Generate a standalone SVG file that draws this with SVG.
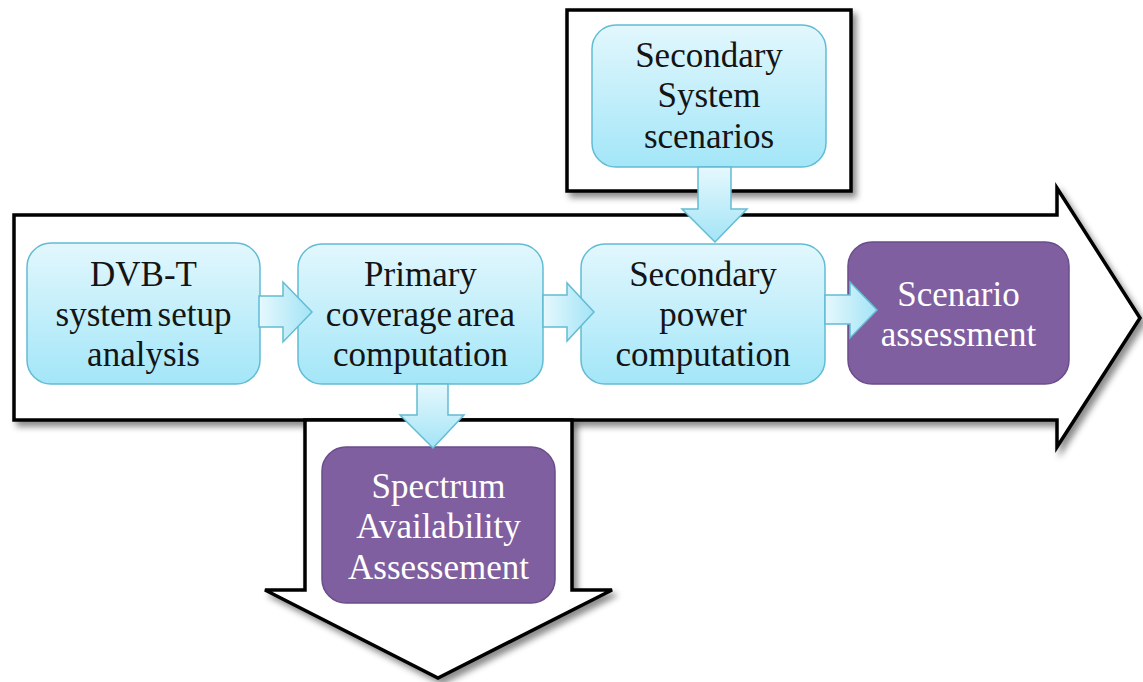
<svg xmlns="http://www.w3.org/2000/svg" width="1143" height="682" viewBox="0 0 1143 682">
  <defs>
    <filter id="shadow" x="-10%" y="-10%" width="125%" height="130%">
      <feDropShadow dx="4" dy="5" stdDeviation="3" flood-color="#000" flood-opacity="0.45"/>
    </filter>
    <linearGradient id="boxFill" x1="0" y1="0" x2="0" y2="1">
      <stop offset="0" stop-color="#e2f7fd"/>
      <stop offset="1" stop-color="#a3e6f8"/>
    </linearGradient>
    <linearGradient id="arrowH" x1="0" y1="0" x2="1" y2="0">
      <stop offset="0" stop-color="#e6f8fd"/>
      <stop offset="1" stop-color="#a3e4f6"/>
    </linearGradient>
    <linearGradient id="arrowV" x1="0" y1="0" x2="0" y2="1">
      <stop offset="0" stop-color="#e6f8fd"/>
      <stop offset="1" stop-color="#a3e4f6"/>
    </linearGradient>
    <style>
      .frame { fill: #fff; stroke: #000; stroke-width: 3.5; stroke-linejoin: miter; filter: url(#shadow); }
      .blue { fill: url(#boxFill); stroke: #62bcd4; stroke-width: 1.5; }
      .purple { fill: #7f5f9f; stroke: #6a4d89; stroke-width: 1.5; }
      .harrow { fill: url(#arrowH); stroke: #62bcd4; stroke-width: 1.5; stroke-linejoin: miter; }
      .varrow { fill: url(#arrowV); stroke: #62bcd4; stroke-width: 1.5; stroke-linejoin: miter; }
      .label { font-size: 35px; text-anchor: middle; word-spacing: -4px; }
      .dark { fill: #141414; }
      .light { fill: #ffffff; }
    </style>
  </defs>

  <!-- outline block arrows -->
  <g id="frames">
    <path id="main-arrow" class="frame" d="M14,215 L1057,215 L1057,188 L1140,318 L1057,447 L1057,420 L14,420 Z"/>
    <path id="down-arrow" class="frame" d="M305,420 L572,420 L572,590 L612,590 L438,678 L265,590 L305,590 Z"/>
    <rect id="top-frame" class="frame" x="567" y="10" width="284" height="181"/>
  </g>

  <g font-family="Liberation Serif, DejaVu Serif, serif">
    <!-- process boxes -->
    <g id="node-dvbt">
      <rect class="blue" x="27" y="243" width="233" height="141" rx="24"/>
      <text class="label dark" x="143.5" y="286">DVB-T</text>
      <text class="label dark" x="143.5" y="326">system setup</text>
      <text class="label dark" x="143.5" y="366">analysis</text>
    </g>

    <g id="node-primary">
      <rect class="blue" x="298" y="244" width="245" height="140" rx="24"/>
      <text class="label dark" x="420.5" y="286">Primary</text>
      <text class="label dark" x="420.5" y="326">coverage area</text>
      <text class="label dark" x="420.5" y="366">computation</text>
    </g>

    <g id="node-secondary-power">
      <rect class="blue" x="581" y="244" width="244" height="140" rx="24"/>
      <text class="label dark" x="703" y="286">Secondary</text>
      <text class="label dark" x="703" y="326">power</text>
      <text class="label dark" x="703" y="366">computation</text>
    </g>

    <g id="node-scenario">
      <rect class="purple" x="848" y="242" width="221" height="142" rx="24"/>
      <text class="label light" x="958.5" y="306">Scenario</text>
      <text class="label light" x="958.5" y="346">assessment</text>
    </g>

    <g id="node-secondary-system">
      <rect class="blue" x="592" y="25" width="234" height="142" rx="24"/>
      <text class="label dark" x="709" y="67">Secondary</text>
      <text class="label dark" x="709" y="107">System</text>
      <text class="label dark" x="709" y="148">scenarios</text>
    </g>

    <g id="node-spectrum">
      <rect class="purple" x="322" y="447" width="233" height="156" rx="24"/>
      <text class="label light" x="438.5" y="498">Spectrum</text>
      <text class="label light" x="438.5" y="538">Availability</text>
      <text class="label light" x="438.5" y="579">Assessement</text>
    </g>
  </g>

  <!-- connectors -->
  <g id="connectors">
    <path class="harrow" d="M259,296 L283,296 L283,282 L312,312 L283,342 L283,327 L259,327 Z"/>
    <path class="harrow" d="M543,295 L567,295 L567,283 L594,312 L567,341 L567,327 L543,327 Z"/>
    <path class="harrow" d="M825,295 L850,295 L850,282 L877,310 L850,338 L850,324 L825,324 Z"/>
    <path class="varrow" d="M698,167 L731,167 L731,209 L747,209 L715,242 L682,209 L698,209 Z"/>
    <path class="varrow" d="M417,384 L448,384 L448,415 L464,415 L433,448 L400,415 L417,415 Z"/>
  </g>
</svg>
